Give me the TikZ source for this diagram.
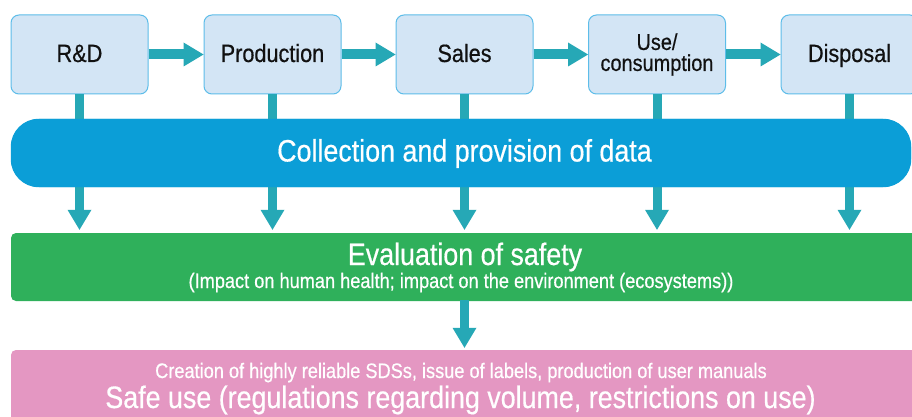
\documentclass[tikz,border=0pt]{standalone}
\usepackage{fontspec}
\setmainfont[FakeStretch=0.866,FakeBold=0.5]{Liberation Sans}
\usetikzlibrary{arrows.meta,calc}
\definecolor{tealc}{HTML}{26A8B6}
\definecolor{bandc}{HTML}{0B9ED7}
\definecolor{boxfill}{HTML}{D3E5F5}
\definecolor{boxline}{HTML}{5DBDE9}
\definecolor{greenc}{HTML}{2FB05B}
\definecolor{pinkc}{HTML}{E497C2}
\definecolor{inkc}{HTML}{111111}
\begin{document}
\begin{tikzpicture}[x=1pt,y=-1pt,
  stagebox/.style={draw=boxline, fill=boxfill, rounded corners=8pt, line width=1pt,
    minimum width=137pt, minimum height=79pt, inner sep=0pt, align=center,
    font=\fontsize{25}{21}\selectfont, text=inkc},
  oneline/.style={text height=15pt, text depth=0pt},
  flowarrow/.style={draw=tealc, line width=10pt, -{Triangle[width=24pt,length=20pt,line width=0pt]}},
  downarrow/.style={draw=tealc, line width=9pt, -{Triangle[width=24pt,length=20pt,line width=0pt]}},
  stub/.style={draw=tealc, line width=9pt},
  panel/.style={inner sep=0pt, rounded corners=5pt},
  whitetext/.style={anchor=base, text=white, inner sep=0pt}]
\useasboundingbox (0,0) rectangle (912,417);
\fill[white] (0,0) rectangle (912,417);
\clip (0,0) rectangle (912,417);

% stages
\node[stagebox, oneline] (rd) at (79.5,54.5) {R\&D};
\node[stagebox, oneline] (prod) at (272.5,54.5) {Production};
\node[stagebox, oneline] (sales) at (464.5,54.5) {Sales};
\node[stagebox, font=\fontsize{23}{21}\selectfont] (use) at (657,54.5) {Use/\\consumption};
\node[stagebox, oneline] (disp) at (849.5,54.5) {Disposal};

\draw[flowarrow] (rd.east) -- (prod.west);
\draw[flowarrow] (prod.east) -- (sales.west);
\draw[flowarrow] (sales.east) -- (use.west);
\draw[flowarrow] (use.east) -- (disp.west);

% panels
\node[panel, fill=bandc, rounded corners=28pt, minimum width=900pt, minimum height=68pt] (band) at (461,153) {};
\node[panel, fill=greenc, minimum width=908pt, minimum height=68pt] (eval) at (465,267) {};
\node[panel, fill=pinkc, minimum width=908pt, minimum height=80pt] (safe) at (465,390) {};

\foreach \s in {rd,prod,sales,use,disp}{
  \draw[stub] (\s.south) -- ($(band.north -| \s.south)+(0,3)$);
  \draw[downarrow] ($(band.south -| \s.south)+(0,-1)$) -- ($(eval.north -| \s.south)+(0,-3)$);
}
\fill[bandc, rounded corners=28pt] (band.north west) rectangle (band.south east);

\draw[downarrow] ($(eval.south -| sales.south)+(0,-1)$) -- ($(safe.north -| sales.south)+(0,-2)$);

% texts
\node[whitetext, font=\fontsize{31}{31}\selectfont] (bandtext) at (464.5,161.5) {Collection and provision of data};
\node[whitetext, font=\fontsize{31}{31}\selectfont] (evaltitle) at (465,265) {Evaluation of safety};
\node[whitetext, font=\fontsize{21}{21}\selectfont] (evalsub) at (461,288) {(Impact on human health; impact on the environment (ecosystems))};
\node[whitetext, font=\fontsize{21}{21}\selectfont] (safesub) at (461,378) {Creation of highly reliable SDSs, issue of labels, production of user manuals};
\node[whitetext, font=\fontsize{31}{31}\selectfont] (safetitle) at (460.5,408) {Safe use (regulations regarding volume, restrictions on use)};
\end{tikzpicture}
\end{document}
